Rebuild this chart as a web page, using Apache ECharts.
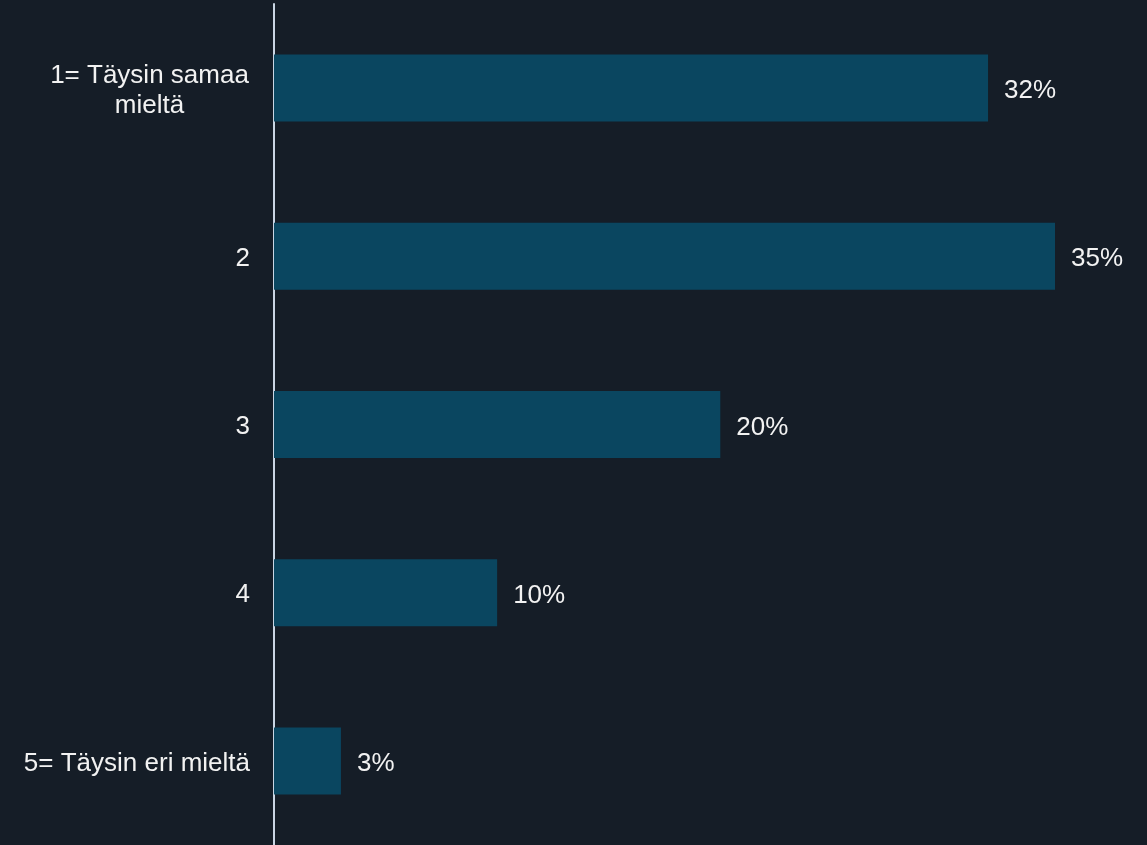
<!DOCTYPE html>
<html>
<head>
<meta charset="utf-8">
<script src="https://cdn.jsdelivr.net/npm/echarts@6/dist/echarts.min.js"></script>
<style>
  html, body { margin: 0; padding: 0; background: #151d27; }
  #chart { width: 1147px; height: 845px; }
</style>
</head>
<body>
<div id="chart"></div>
<script>
// Response categories (top to bottom) and share of answers in percent
const categories = ['1= Täysin samaa\nmieltä', '2', '3', '4', '5= Täysin eri mieltä'];
const shares = [32, 35, 20, 10, 3];

const chart = echarts.init(document.getElementById('chart'));
const font = '"Liberation Sans", Arial, sans-serif';

chart.setOption({
  backgroundColor: '#151d27',
  animation: false,
  grid: { left: 274, right: 92, top: 4, height: 845, containLabel: false },
  xAxis: {
    type: 'value',
    min: 0,
    max: 35,
    show: false
  },
  yAxis: {
    type: 'category',
    data: categories,
    inverse: true,
    axisLine: { show: true, lineStyle: { color: '#c9d5e3', width: 2 } },
    axisTick: { show: false },
    axisLabel: {
      margin: 24,
      color: '#f2f2f2',
      fontFamily: font,
      fontSize: 26,
      lineHeight: 30,
      padding: [5, 0, 0, 0],
      formatter: function (v) {
        return v.indexOf('\n') >= 0 ? '{c|' + v + '}' : v;
      },
      rich: {
        c: { width: 201, align: 'center', fontSize: 26, lineHeight: 30, color: '#f2f2f2', fontFamily: font }
      }
    }
  },
  series: [{
    type: 'bar',
    data: shares,
    barWidth: 67,
    itemStyle: { color: '#0a4660' },
    label: {
      show: true,
      position: 'right',
      distance: 16,
      offset: [0, 3],
      color: '#f2f2f2',
      fontFamily: font,
      fontSize: 26,
      formatter: '{c}%'
    }
  }]
});
</script>
</body>
</html>
